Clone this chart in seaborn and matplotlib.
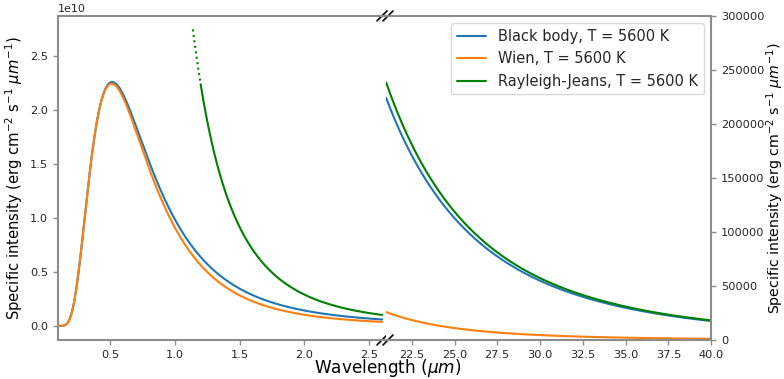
import numpy as np
import pandas as pd
import matplotlib
matplotlib.use("Agg")
import matplotlib.pyplot as plt
import seaborn as sns

# Physical constants (cgs) and temperature of the source
h = 6.626e-27       # erg s
c = 2.998e10        # cm / s
k_B = 1.381e-16     # erg / K
T = 5600.0          # K

# Wavelength windows (micron) for the two panels of the broken axis
near_window = (0.1, 2.6)
far_window = (21.0, 40.0)
rj_dotted_window = (1.14, 1.2)   # Rayleigh-Jeans drawn dotted here, solid beyond
rj_solid_start = 1.2

names = ["Black body", "Wien", "Rayleigh-Jeans"]
colors = ["#1f77b4", "#ff7f0e", "#008000"]

near_xticks = [0.5, 1.0, 1.5, 2.0, 2.5]
far_xticks = [22.5, 25.0, 27.5, 30.0, 32.5, 35.0, 37.5, 40.0]
near_yticks = [0.0, 0.5e10, 1.0e10, 1.5e10, 2.0e10, 2.5e10]
far_yticks = [0, 50000, 100000, 150000, 200000, 250000, 300000]


def black_body(lam_um):
    lam = lam_um * 1e-4
    return 2 * h * c**2 / lam**5 / np.expm1(h * c / (lam * k_B * T)) * 1e-4


def wien(lam_um):
    lam = lam_um * 1e-4
    return 2 * h * c**2 / lam**5 * np.exp(-h * c / (lam * k_B * T)) * 1e-4


def rayleigh_jeans(lam_um):
    lam = lam_um * 1e-4
    return 2 * c * k_B * T / lam**4 * 1e-4


laws = dict(zip(names, [black_body, wien, rayleigh_jeans]))


def frame(lo, hi, name, n=600):
    lam = np.linspace(lo, hi, n)
    return pd.DataFrame({"lam": lam, "I": laws[name](lam)})


sns.set_style("ticks")
plt.rcParams["font.family"] = ["DejaVu Sans"]

fig = plt.figure(figsize=(7.84, 3.79), dpi=100)
w1, w2 = 0.4185, 0.4145
ax1 = fig.add_axes([0.074, 0.103, w1, 0.855])
ax2 = fig.add_axes([0.074 + w1, 0.103, w2, 0.855])

lw = 1.5
# Visible / near-infrared panel
for name, col in zip(names[:2], colors[:2]):
    sns.lineplot(data=frame(*near_window, name), x="lam", y="I", ax=ax1,
                 color=col, lw=lw, sort=False, estimator=None)
sns.lineplot(data=frame(rj_solid_start, near_window[1], names[2]), x="lam", y="I",
             ax=ax1, color=colors[2], lw=lw, sort=False, estimator=None)
sns.lineplot(data=frame(*rj_dotted_window, names[2], n=60), x="lam", y="I",
             ax=ax1, color=colors[2], lw=lw, ls=":", sort=False, estimator=None)

# Far-infrared panel
for name, col in zip(names, colors):
    sns.lineplot(data=frame(*far_window, name), x="lam", y="I", ax=ax2,
                 color=col, lw=lw, sort=False, estimator=None,
                 label=f"{name}, T = {int(T)} K")

ax1.set_xlim(0.1, 2.63)
ax1.set_ylim(-0.13e10, 2.87e10)
ax2.set_xlim(21.0, 40.0)
ax2.set_ylim(0, 300000)

ax1.set_xticks(near_xticks)
ax2.set_xticks(far_xticks)
ax1.set_yticks(near_yticks)
ax2.set_yticks(far_yticks)

spine_col = "#8c8c8c"
text_col = "#262626"
for ax in (ax1, ax2):
    for sp in ax.spines.values():
        sp.set_color(spine_col)
        sp.set_linewidth(1.5)
    ax.tick_params(colors=spine_col, labelcolor=text_col, labelsize=8.2,
                   length=3.5, width=1, pad=3.5)
    ax.set_xlabel("")

ax1.spines["right"].set_visible(False)
ax2.spines["left"].set_visible(False)
ax2.yaxis.tick_right()
ax2.yaxis.set_label_position("right")
ax1.yaxis.get_offset_text().set_fontsize(8)
ax1.yaxis.get_offset_text().set_color(text_col)

ylabel = r"Specific intensity (erg cm$^{-2}$ s$^{-1}$ $\mu m^{-1}$)"
ax1.set_ylabel(ylabel, fontsize=10.6, color="black", labelpad=4)
ax2.set_ylabel(ylabel, fontsize=10.2, color="black")
ax2.yaxis.set_label_coords(1.164, 0.5)
fig.text(0.494, 0.028, r"Wavelength ($\mu m$)", ha="center", va="center",
         fontsize=12.2, color="black")

leg = ax2.legend(loc="upper right", fontsize=10.5, frameon=True)
leg.get_frame().set_edgecolor("#d0d0d0")

# Break marks: one slash per panel on the shared top and bottom edges
kw = dict(color="k", lw=1.2, clip_on=False)
fig_w, fig_h = 784.0, 379.0
for ax, cx_px in ((ax1, 382.0), (ax2, 388.0)):
    bbox = ax.get_position()
    ax_w = bbox.width * fig_w
    ax_h = bbox.height * fig_h
    cx = (cx_px - bbox.x0 * fig_w) / ax_w
    dx = 5.0 / ax_w
    dy = 5.0 / ax_h
    for y in (0.0, 1.0):
        ax.plot([cx - dx, cx + dx], [y - dy, y + dy], transform=ax.transAxes, **kw)

fig.savefig("out.png", dpi=100)
